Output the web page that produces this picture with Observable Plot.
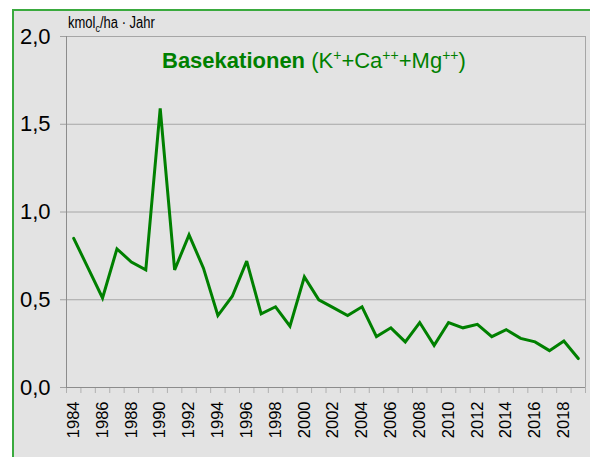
<!DOCTYPE html>
<html>
<head>
<meta charset="utf-8">
<script src="https://cdn.jsdelivr.net/npm/d3@7"></script>
<script src="https://cdn.jsdelivr.net/npm/@observablehq/plot@0.6"></script>
<style>
  html, body { margin: 0; padding: 0; background: #fff; }
  #wrap { position: relative; width: 590px; height: 457px; overflow: hidden; background: #fff; font-family: "Liberation Sans", Arial, sans-serif; }
  #panel { position: absolute; left: 12px; top: 9px; width: 600px; height: 470px; background: #e3e3e3; border-left: 2px solid #3aaa3e; border-top: 2px solid #3aaa3e; }
  #chart { position: absolute; left: 0; top: 0; }
  #title { position: absolute; left: 162px; top: 50px; font-size: 22px; line-height: 22px; color: #008000; white-space: nowrap; }
  #title .sp { font-size: 14px; position: relative; top: -8px; }
  #unit { position: absolute; left: 68px; top: 18px; font-size: 13px; line-height: 13px; color: #000; white-space: nowrap; transform: scale(1, 1.2); transform-origin: left bottom; }
  #unit .sb { font-size: 9px; position: relative; top: 3px; }
</style>
</head>
<body>
<div id="wrap">
  <div id="panel"></div>
  <div id="chart"></div>
  <div id="unit">kmol<span class="sb">c</span>/ha · Jahr</div>
  <div id="title"><b>Basekationen</b> (K<span class="sp">+</span>+Ca<span class="sp">++</span>+Mg<span class="sp">++</span>)</div>
</div>
<script>
// Data
const years = [1984,1985,1986,1987,1988,1989,1990,1991,1992,1993,1994,1995,1996,1997,1998,1999,2000,2001,2002,2003,2004,2005,2006,2007,2008,2009,2010,2011,2012,2013,2014,2015,2016,2017,2018,2019];
const values = [0.85,0.68,0.51,0.79,0.715,0.67,1.59,0.67,0.87,0.68,0.41,0.52,0.72,0.42,0.46,0.35,0.63,0.50,0.455,0.41,0.46,0.29,0.34,0.26,0.37,0.24,0.37,0.34,0.36,0.29,0.33,0.28,0.26,0.21,0.265,0.165];
const xTickLabels = [1984,1986,1988,1990,1992,1994,1996,1998,2000,2002,2004,2006,2008,2010,2012,2014,2016,2018];
const yTicks = [0, 0.5, 1.0, 1.5, 2.0];
const yGrid = [0.5, 1.0, 1.5, 2.0];

const rows = years.map((y, i) => ({year: y, value: values[i]}));
const boundaries = d3.range(years[0] - 0.5, years[years.length - 1] + 1, 1);

const plot = Plot.plot({
  width: 590,
  height: 457,
  marginLeft: 66,
  marginRight: 5,
  marginTop: 36,
  marginBottom: 70,
  style: {background: "transparent", fontFamily: "Liberation Sans, Arial, sans-serif", overflow: "visible"},
  x: {type: "linear", domain: [years[0] - 0.5, years[years.length - 1] + 0.5], axis: null},
  y: {domain: [0, 2], axis: null},
  marks: [
    Plot.ruleY(yGrid, {stroke: "#a6a6a6", strokeWidth: 1}),
    Plot.ruleX([years[years.length - 1] + 0.5], {stroke: "#a6a6a6", strokeWidth: 1}),
    Plot.axisY({ticks: yTicks, tickSize: 6, tickFormat: () => "", stroke: "#a0a0a0", label: null}),
    Plot.axisX({ticks: boundaries, tickSize: 6, tickFormat: () => "", stroke: "#b0b0b0", label: null}),
    Plot.ruleY([0], {stroke: "#8c8c8c", strokeWidth: 1}),
    Plot.ruleX([years[0] - 0.5], {stroke: "#8c8c8c", strokeWidth: 1}),
    Plot.text(yTicks, {y: d => d, frameAnchor: "left", dx: -16, textAnchor: "end", text: d => d.toFixed(1).replace(".", ","), fontSize: 22, fill: "#000", ariaLabel: "ylab"}),
    Plot.text(xTickLabels, {x: d => d, y: () => 0, dy: 14, rotate: -90, textAnchor: "end", lineAnchor: "middle", text: d => String(d), fontSize: 16.5, fill: "#000", ariaLabel: "xlab"}),
    Plot.line(rows, {x: "year", y: "value", stroke: "#008000", strokeWidth: 3, strokeLinejoin: "miter", strokeMiterlimit: 3})
  ]
});

// Stretch tick labels to match the reference's proportions
d3.select(plot).selectAll('g[aria-label="ylab"] text').each(function() {
  this.setAttribute("transform", (this.getAttribute("transform") || "") + " scale(0.87,1)");
});
d3.select(plot).selectAll('g[aria-label="xlab"] text').each(function() {
  this.setAttribute("transform", (this.getAttribute("transform") || "") + " scale(1.34,1)");
});

document.getElementById("chart").appendChild(plot);
</script>
</body>
</html>
